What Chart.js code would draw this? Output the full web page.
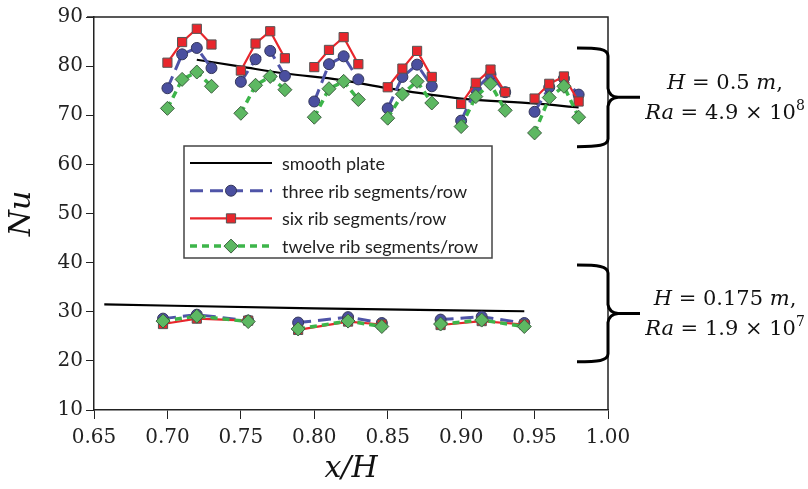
<!DOCTYPE html>
<html>
<head>
<meta charset="utf-8">
<script src="https://cdn.jsdelivr.net/npm/chart.js@4.4.1/dist/chart.umd.min.js"></script>
<style>
  html, body { margin: 0; padding: 0; background: #fff; }
  #wrap { width: 808px; height: 489px; }
</style>
</head>
<body>
<div id="wrap"><canvas id="chartNu" width="808" height="489"></canvas></div>
<script>
// H = 0.5 m case: six groups of four rib rows
const xUpper = [0.70, 0.71, 0.72, 0.73, 0.75, 0.76, 0.77, 0.78, 0.80, 0.81, 0.82, 0.83,
                0.85, 0.86, 0.87, 0.88, 0.90, 0.91, 0.92, 0.93, 0.95, 0.96, 0.97, 0.98];
const threeRibUpper = [75.5, 82.4, 83.7, 79.6, 76.8, 81.4, 83.1, 78.0, 72.8, 80.4, 82.0, 77.3,
                       71.4, 77.8, 80.3, 75.9, 68.9, 75.3, 78.3, 74.7, 70.7, 75.7, 77.5, 74.2];
const sixRibUpper = [80.7, 84.9, 87.6, 84.4, 79.1, 84.6, 87.1, 81.6, 79.8, 83.3, 85.9, 80.4,
                     75.7, 79.5, 83.1, 77.8, 72.3, 76.6, 79.3, 74.7, 73.4, 76.4, 77.9, 72.8];
const twelveRibUpper = [71.4, 77.3, 78.8, 75.9, 70.4, 76.1, 77.9, 75.2, 69.6, 75.4, 76.9, 73.2,
                        69.4, 74.3, 76.9, 72.5, 67.7, 73.8, 76.4, 71.0, 66.4, 73.6, 75.9, 69.6];

// H = 0.175 m case: three groups of three rib rows
const xLower = [0.697, 0.720, 0.755, 0.789, 0.823, 0.846, 0.886, 0.914, 0.943];
const threeRibLower = [28.6, 29.4, 28.2, 27.8, 28.9, 27.7, 28.4, 29.0, 27.7];
const sixRibLower = [27.5, 28.6, 28.2, 26.3, 28.0, 27.4, 27.3, 28.1, 27.4];
const twelveRibLower = [28.1, 29.1, 28.0, 26.5, 28.1, 27.0, 27.5, 28.3, 27.0];

// smooth plate curves
const smoothXUpper = [0.72, 0.75, 0.78, 0.8175, 0.85, 0.90, 0.95, 0.98];
const smoothUpper = [81.3, 79.9, 78.5, 77.2, 75.5, 73.4, 72.4, 71.6];
const smoothXLower = [0.657, 0.80, 0.943];
const smoothLower = [31.5, 30.7, 30.1];

const xTicks = [0.65, 0.70, 0.75, 0.80, 0.85, 0.90, 0.95, 1.00];
const yTicks = [10, 20, 30, 40, 50, 60, 70, 80, 90];

// Nu range covered by each brace (top, bottom)
const braceRanges = [[83.7, 63.6], [39.5, 19.8]];
const braceLabels = [
    [
        [{ text: "H", italic: true }, { text: " = 0.5 " }, { text: "m", italic: true }, { text: "," }],
        [{ text: "Ra", italic: true }, { text: " = 4.9 × 10" }, { text: "8", sup: true }],
    ],
    [
        [{ text: "H", italic: true }, { text: " = 0.175 " }, { text: "m", italic: true }, { text: "," }],
        [{ text: "Ra", italic: true }, { text: " = 1.9 × 10" }, { text: "7", sup: true }],
    ],
];

function withBreaks(xs, ys, groupSize) {
    const pts = [];
    xs.forEach((x, i) => {
        if (i > 0 && i % groupSize === 0) pts.push({ x: x, y: null });
        pts.push({ x: x, y: ys[i] });
    });
    return pts;
}

function joinCases(upper, lower) {
    return upper.concat([{ x: 0.7, y: null }], lower);
}

function drawMarker(ctx, style, r, x, y) {
    ctx.beginPath();
    if (style === "circle") {
        ctx.arc(x, y, r, 0, Math.PI * 2);
    } else if (style === "rect") {
        const s = r * Math.SQRT1_2;
        ctx.rect(x - s, y - s, 2 * s, 2 * s);
    } else {
        ctx.moveTo(x - r, y);
        ctx.lineTo(x, y - r);
        ctx.lineTo(x + r, y);
        ctx.lineTo(x, y + r);
        ctx.closePath();
    }
    ctx.fill();
    ctx.stroke();
}

function drawRuns(ctx, runs, cx, baseline, size) {
    const fontFor = (r) => (r.italic ? "italic " : "") + (r.sup ? Math.round(size * 0.68) : size) + 'px "DejaVu Serif"';
    let total = 0;
    runs.forEach((r) => {
        ctx.font = fontFor(r);
        total += ctx.measureText(r.text).width;
    });
    let x = cx - total / 2;
    runs.forEach((r) => {
        ctx.font = fontFor(r);
        ctx.fillText(r.text, x, r.sup ? baseline - size * 0.45 : baseline);
        x += ctx.measureText(r.text).width;
    });
}

function drawBrace(ctx, xs, yTop, yBot) {
    const yMid = (yTop + yBot) / 2;
    ctx.beginPath();
    ctx.moveTo(xs - 31, yTop);
    ctx.bezierCurveTo(xs - 10, yTop, xs, yTop + 1, xs, yTop + 8);
    ctx.lineTo(xs, yMid - 9);
    ctx.quadraticCurveTo(xs + 1, yMid - 1, xs + 10, yMid);
    ctx.lineTo(xs + 32, yMid);
    ctx.moveTo(xs + 10, yMid);
    ctx.quadraticCurveTo(xs + 1, yMid + 1, xs, yMid + 9);
    ctx.lineTo(xs, yBot - 8);
    ctx.bezierCurveTo(xs, yBot - 1, xs - 10, yBot, xs - 31, yBot);
    ctx.stroke();
}

const framePlugin = {
    id: "frame",
    afterDatasetsDraw(chart) {
        const { ctx, chartArea } = chart;
        ctx.save();
        ctx.strokeStyle = "#222";
        ctx.lineWidth = 1.5;
        ctx.beginPath();
        ctx.moveTo(chartArea.left - 7, chartArea.top);
        ctx.lineTo(chartArea.right, chartArea.top);
        ctx.lineTo(chartArea.right, chartArea.bottom);
        ctx.stroke();
        ctx.restore();
    },
};

const bracePlugin = {
    id: "braces",
    afterDraw(chart) {
        const { ctx, chartArea } = chart;
        const yScale = chart.scales.y;
        ctx.save();
        ctx.strokeStyle = "#000";
        ctx.lineWidth = 3;
        ctx.fillStyle = "#111";
        ctx.textBaseline = "alphabetic";
        braceRanges.forEach((range, i) => {
            const yTop = yScale.getPixelForValue(range[0]);
            const yBot = yScale.getPixelForValue(range[1]);
            const yMid = (yTop + yBot) / 2;
            drawBrace(ctx, chartArea.right, yTop, yBot);
            const cx = chartArea.right + 117;
            drawRuns(ctx, braceLabels[i][0], cx, yMid - 8, 21);
            drawRuns(ctx, braceLabels[i][1], cx, yMid + 22, 21);
        });
        ctx.restore();
    },
};

const legendPlugin = {
    id: "boxLegend",
    afterDraw(chart) {
        const { ctx, chartArea } = chart;
        const left = chartArea.left + 90;
        const top = chartArea.top + 129;
        const width = 308;
        const height = 112;
        ctx.save();
        ctx.fillStyle = "#fff";
        ctx.fillRect(left, top, width, height);
        ctx.strokeStyle = "#444";
        ctx.lineWidth = 1.5;
        ctx.strokeRect(left, top, width, height);
        ctx.font = '18px "Lato"';
        ctx.textBaseline = "middle";
        chart.data.datasets.forEach((ds, i) => {
            const y = top + 17 + i * 27.7;
            const x0 = left + 6;
            const x1 = left + 88;
            ctx.strokeStyle = ds.borderColor;
            ctx.lineWidth = ds.borderWidth;
            ctx.setLineDash(ds.borderDash || []);
            ctx.beginPath();
            ctx.moveTo(x0, y);
            ctx.lineTo(x1, y);
            ctx.stroke();
            ctx.setLineDash([]);
            if (ds.pointRadius > 0) {
                ctx.fillStyle = ds.pointBackgroundColor;
                ctx.strokeStyle = ds.pointBorderColor;
                ctx.lineWidth = ds.pointBorderWidth;
                drawMarker(ctx, ds.pointStyle, ds.pointRadius, (x0 + x1) / 2, y);
            }
            ctx.fillStyle = "#222";
            ctx.fillText(ds.label, left + 98, y + 1);
        });
        ctx.restore();
    },
};

const datasets = [
    {
        label: "smooth plate",
        data: joinCases(withBreaks(smoothXUpper, smoothUpper, 99), withBreaks(smoothXLower, smoothLower, 99)),
        borderColor: "#000",
        borderWidth: 2.2,
        pointRadius: 0,
        cubicInterpolationMode: "monotone",
        order: 3,
    },
    {
        label: "three rib segments/row",
        data: joinCases(withBreaks(xUpper, threeRibUpper, 4), withBreaks(xLower, threeRibLower, 3)),
        borderColor: "#4f54a8",
        borderWidth: 3,
        borderDash: [13, 7],
        pointStyle: "circle",
        pointRadius: 5.5,
        pointBackgroundColor: "#4a4f9f",
        pointBorderColor: "#33365a",
        pointBorderWidth: 1,
        order: 2,
    },
    {
        label: "six rib segments/row",
        data: joinCases(withBreaks(xUpper, sixRibUpper, 4), withBreaks(xLower, sixRibLower, 3)),
        borderColor: "#e8262c",
        borderWidth: 2.2,
        pointStyle: "rect",
        pointRadius: 6.5,
        pointBackgroundColor: "#e8262c",
        pointBorderColor: "#555",
        pointBorderWidth: 1,
        order: 1,
    },
    {
        label: "twelve rib segments/row",
        data: joinCases(withBreaks(xUpper, twelveRibUpper, 4), withBreaks(xLower, twelveRibLower, 3)),
        borderColor: "#3db54a",
        borderWidth: 3.5,
        borderDash: [7, 5],
        pointStyle: "rectRot",
        pointRadius: 7,
        pointBackgroundColor: "#5db862",
        pointBorderColor: "#3d5f40",
        pointBorderWidth: 1,
        order: 0,
    },
];

const tickFont = { family: "DejaVu Serif", size: 20 };
const titleFont = { family: "DejaVu Serif", style: "italic", size: 30 };

new Chart(document.getElementById("chartNu").getContext("2d"), {
    type: "line",
    data: { datasets },
    options: {
        responsive: false,
        animation: false,
        layout: { padding: { top: 17, right: 200, left: 0, bottom: 0 } },
        plugins: {
            legend: { display: false },
            tooltip: { enabled: false },
        },
        scales: {
            x: {
                type: "linear",
                min: 0.65,
                max: 1.0,
                afterBuildTicks: (scale) => {
                    scale.ticks = xTicks.map((v) => ({ value: v }));
                },
                afterFit: (scale) => {
                    scale.height = 79;
                },
                ticks: {
                    callback: (v) => Number(v).toFixed(2),
                    font: tickFont,
                    color: "#222",
                    padding: 7,
                    maxRotation: 0,
                    autoSkip: false,
                },
                grid: { drawOnChartArea: false, tickLength: 9, color: "#222" },
                border: { color: "#222", width: 1.5 },
                title: {
                    display: true,
                    text: "x/H",
                    font: titleFont,
                    color: "#111",
                    padding: { top: 0, bottom: 2 },
                },
            },
            y: {
                min: 10,
                max: 90,
                afterBuildTicks: (scale) => {
                    scale.ticks = yTicks.map((v) => ({ value: v }));
                },
                afterFit: (scale) => {
                    scale.width = 94;
                },
                ticks: { font: tickFont, color: "#222", padding: 3 },
                grid: { drawOnChartArea: false, tickLength: 8, color: "#222" },
                border: { color: "#222", width: 1.5 },
                title: {
                    display: true,
                    text: "Nu",
                    font: titleFont,
                    color: "#111",
                    padding: { top: 4, bottom: 4 },
                },
            },
        },
    },
    plugins: [framePlugin, legendPlugin, bracePlugin],
});
</script>
</body>
</html>
